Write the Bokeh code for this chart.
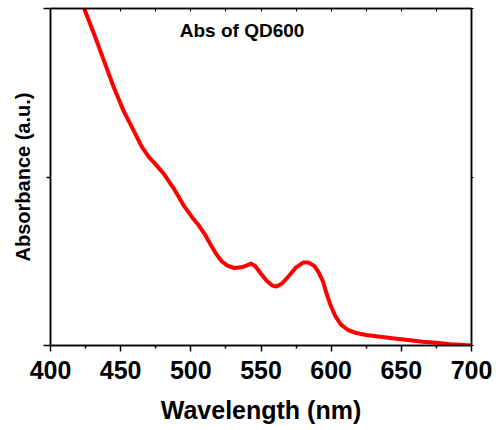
from bokeh.plotting import figure
from bokeh.models import Range1d, LinearAxis, FixedTicker, Label
from bokeh.embed import file_html
from bokeh.resources import INLINE

# Data (wavelength in nm, absorbance in a.u.)
wavelength = [423.5, 431, 438, 445, 452, 459, 465, 470, 474, 481, 488, 495,
              501, 505, 510, 514, 518, 522, 526, 531, 536, 540, 543, 546, 550,
              554, 558, 561, 565, 570, 575, 580, 584, 588, 591, 594, 597, 600,
              603, 607, 612, 618, 625, 635, 645, 655, 665, 675, 685, 692, 700]
absorbance = [1.005, 0.925, 0.846, 0.767, 0.697, 0.640, 0.590, 0.560, 0.542,
              0.508, 0.465, 0.415, 0.380, 0.360, 0.330, 0.300, 0.272, 0.250,
              0.237, 0.230, 0.232, 0.238, 0.243, 0.235, 0.213, 0.192, 0.178,
              0.175, 0.184, 0.207, 0.232, 0.246, 0.246, 0.236, 0.218, 0.192,
              0.150, 0.115, 0.087, 0.062, 0.046, 0.037, 0.031, 0.026, 0.021,
              0.016, 0.011, 0.008, 0.004, 0.002, 0.0]

x_major = [400, 450, 500, 550, 600, 650, 700]
x_minor = [425, 475, 525, 575, 625, 675]
y_major = [0, 1]
y_minor = [0.5]
title_text = "Abs of QD600"

FONT = "Liberation Sans"

p = figure(frame_width=421, frame_height=337, output_backend="svg",
           toolbar_location=None, x_range=Range1d(400, 700), y_range=Range1d(0, 1),
           min_border_left=50, min_border_right=25, min_border_top=8, min_border_bottom=85,
           x_axis_location=None, y_axis_location=None)
p.outline_line_color = "black"
p.outline_line_width = 1.5
p.grid.visible = False
p.background_fill_color = "white"
p.border_fill_color = "white"

xb = LinearAxis(ticker=FixedTicker(ticks=x_major, minor_ticks=x_minor))
xb.axis_label = "Wavelength (nm)"
xb.axis_label_text_font = FONT
xb.axis_label_text_font_style = "bold"
xb.axis_label_text_font_size = "25px"
xb.axis_label_text_color = "black"
xb.axis_label_standoff = 14
xb.major_label_text_font = FONT
xb.major_label_text_font_style = "bold"
xb.major_label_text_font_size = "25px"
xb.major_label_text_color = "black"
xb.major_label_standoff = 9
xb.major_tick_out = 6
xb.major_tick_in = 0
xb.minor_tick_out = 3
xb.minor_tick_in = 0
xb.axis_line_width = 1.5
xb.major_tick_line_width = 1.5
xb.minor_tick_line_width = 1.5
p.add_layout(xb, "below")

yl = LinearAxis(ticker=FixedTicker(ticks=y_major, minor_ticks=y_minor))
yl.axis_label = "Absorbance (a.u.)"
yl.axis_label_text_font = FONT
yl.axis_label_text_font_style = "bold"
yl.axis_label_text_font_size = "20px"
yl.axis_label_text_color = "black"
yl.axis_label_standoff = 10
yl.major_label_overrides = {t: "" for t in y_major}
yl.major_label_standoff = 0
yl.major_tick_out = 7
yl.major_tick_in = 0
yl.minor_tick_out = 4
yl.minor_tick_in = 0
yl.axis_line_width = 1.5
yl.major_tick_line_width = 1.5
yl.minor_tick_line_width = 1.5
p.add_layout(yl, "left")

xt = LinearAxis(ticker=FixedTicker(ticks=x_major, minor_ticks=x_minor))
xt.major_label_overrides = {t: "" for t in x_major}
xt.major_label_standoff = 0
xt.major_tick_in = 3
xt.major_tick_out = 0
xt.minor_tick_in = 3
xt.minor_tick_out = 0
xt.axis_line_width = 1.5
p.add_layout(xt, "above")

yr = LinearAxis(ticker=FixedTicker(ticks=y_major, minor_ticks=y_minor))
yr.major_label_overrides = {t: "" for t in y_major}
yr.major_label_standoff = 0
yr.major_tick_in = 0
yr.major_tick_out = 2
yr.minor_tick_in = 0
yr.minor_tick_out = 2
yr.axis_line_width = 1.5
p.add_layout(yr, "right")

p.line(wavelength, absorbance, line_color="#ff0000", line_width=4, line_join="round")

p.add_layout(Label(x=536.5, y=0.935, text=title_text, text_font=FONT,
                   text_font_style="bold", text_font_size="19px", text_color="black",
                   text_align="center", text_baseline="middle"))

open("out.html", "w").write(file_html(p, INLINE))
